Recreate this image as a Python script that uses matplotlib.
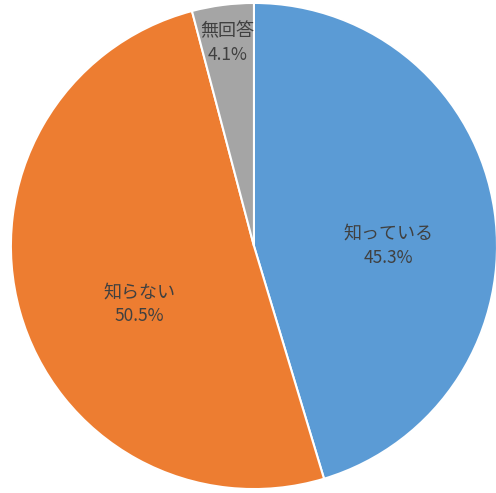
import matplotlib.pyplot as plt

plt.rcParams['font.family'] = ['Noto Sans CJK JP', 'DejaVu Sans']

labels = ['知っている', '知らない', '無回答']
values = [45.3, 50.5, 4.1]
colors = ['#5B9BD5', '#ED7D31', '#A5A5A5']

# where each label block sits inside the pie (axes data units)
label_pos = [(0.555, 0.0), (-0.47, -0.24), (-0.11, 0.835)]

fig = plt.figure(figsize=(4.96, 4.93), dpi=100)
ax = fig.add_axes([0.022, 0.008, 0.98, 0.986])

wedges, _ = ax.pie(values, colors=colors, startangle=90, counterclock=False,
                   radius=1.0, wedgeprops=dict(edgecolor='white', linewidth=1.5))

for (x, y), name, v in zip(label_pos, labels, values):
    ax.text(x, y + 0.05, name, ha='center', va='center', fontsize=13, color='#404040')
    ax.text(x, y - 0.05, f'{v:.1f}%', ha='center', va='center', fontsize=12.5, color='#404040')

ax.set_xlim(-1, 1)
ax.set_ylim(-1, 1)
ax.set_aspect('equal')
ax.axis('off')

fig.savefig('out.png', dpi=100)
